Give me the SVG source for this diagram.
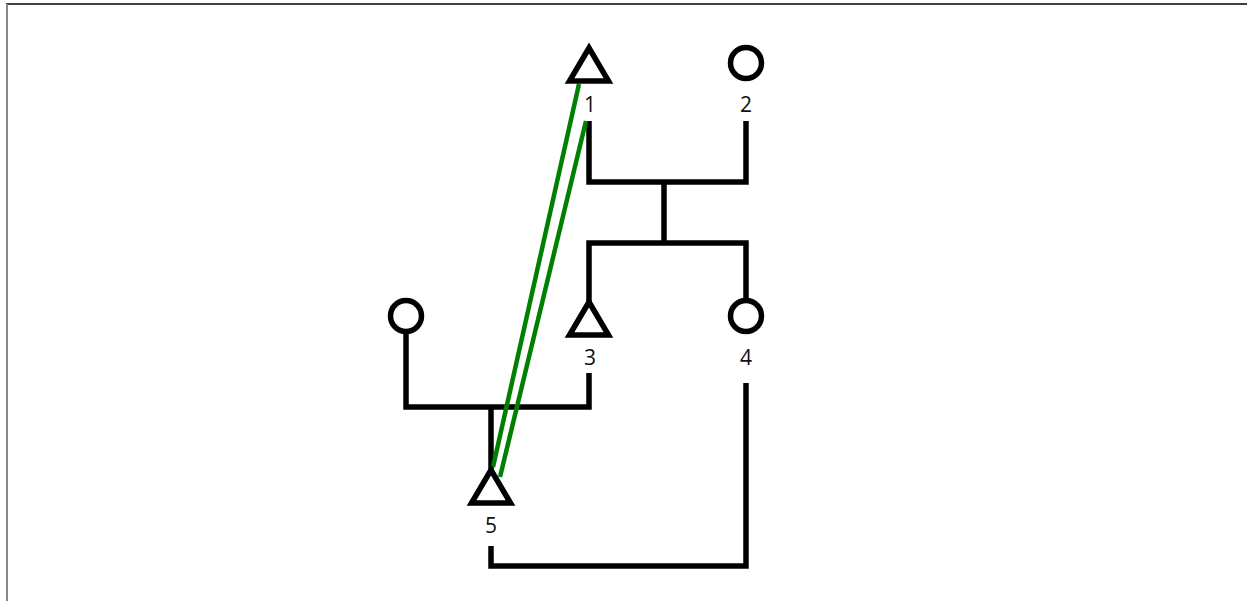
<svg xmlns="http://www.w3.org/2000/svg" width="1247" height="601" viewBox="0 0 1247 601">
<style>
.ln{fill:none;stroke:#000;stroke-width:5.5;stroke-linejoin:miter;stroke-linecap:butt}
.sym{fill:#fff;stroke:#000;stroke-width:5.5;stroke-linejoin:miter}
.gr{fill:none;stroke:#008000;stroke-width:4.5}
.lb{font-family:"Open Sans","DejaVu Sans",sans-serif;font-size:21px;fill:#111;text-anchor:middle}
</style>
<defs>
<path id="tri" d="M0,0 L19.5,33 L-19.5,33 Z"/>
</defs>
<rect width="1247" height="601" fill="#fff"/>
<line x1="6" y1="4" x2="1247" y2="4" stroke="#000" stroke-width="1.5"/>
<line x1="7" y1="4" x2="7" y2="601" stroke="#888" stroke-width="2"/>
<g id="connectors">
<polyline class="ln" points="589,121 589,182 746,182 746,121"/>
<line class="ln" x1="664" y1="182" x2="664" y2="243"/>
<polyline class="ln" points="589,302 589,243 746,243 746,298"/>
<polyline class="ln" points="406,333 406,407 589,407 589,373"/>
<line class="ln" x1="491" y1="407" x2="491" y2="470"/>
<polyline class="ln" points="491,546 491,566 746,566 746,383"/>
<line class="gr" x1="579" y1="84" x2="493" y2="467"/>
<line class="gr" x1="586" y1="121" x2="500" y2="477"/>
</g>
<g id="node1"><use href="#tri" class="sym" x="589" y="48"/><text class="lb" x="590" y="112">1</text></g>
<g id="node2"><circle class="sym" cx="746" cy="63" r="15.5"/><text class="lb" x="746" y="112">2</text></g>
<g id="node3"><use href="#tri" class="sym" x="589" y="302"/><text class="lb" x="590" y="365">3</text></g>
<g id="node4"><circle class="sym" cx="746" cy="316" r="15.5"/><text class="lb" x="746" y="365">4</text></g>
<g id="node6"><circle class="sym" cx="406" cy="316" r="15.5"/></g>
<g id="node5"><use href="#tri" class="sym" x="491" y="470"/><text class="lb" x="491" y="533">5</text></g>
</svg>
